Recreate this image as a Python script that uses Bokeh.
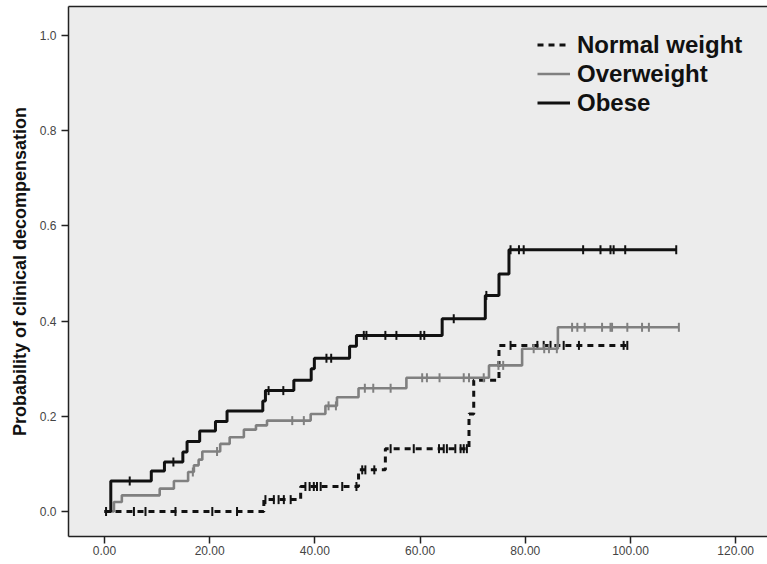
import numpy as np
from bokeh.plotting import figure
from bokeh.models import (Range1d, FixedTicker, NumeralTickFormatter, Legend,
                          LegendItem, LinearAxis)
from bokeh.embed import file_html
from bokeh.resources import INLINE

# ---------------- data ----------------
normal_times = [0.0, 30.3, 37.3, 48.3, 53.4, 69.3, 70.2, 75.0]
normal_prob = [0.0, 0.025, 0.0525, 0.0875, 0.132, 0.205, 0.276, 0.349]
normal_end = 99.4
normal_censored = [0.3, 5.6, 7.8, 13.5, 20.5, 25.2, 30.6, 32.2, 33.1, 34.1, 35.4,
                   38.2, 39.0, 39.8, 40.4, 41.1, 45.2, 47.9, 49.0, 49.6, 51.3,
                   54.4, 58.8, 63.6, 64.5, 65.1, 66.7, 67.7, 68.3, 68.9, 77.2,
                   82.3, 83.5, 84.8, 87.3, 90.2, 98.7, 99.4]

over_times = [0.0, 1.8, 3.3, 10.5, 13.2, 15.9, 17.0, 17.9, 18.6, 22.0, 23.8,
              26.5, 28.8, 30.9, 39.2, 42.0, 44.2, 48.3, 57.4, 73.1, 79.4, 86.2]
over_prob = [0.0, 0.020, 0.034, 0.048, 0.064, 0.083, 0.097, 0.109, 0.126, 0.142,
             0.156, 0.172, 0.181, 0.191, 0.205, 0.222, 0.240, 0.259, 0.281,
             0.307, 0.342, 0.387]
over_end = 109.2
over_censored = [16.8, 21.4, 35.7, 37.9, 42.6, 44.0, 49.5, 51.1, 54.4, 60.4, 61.3,
                 63.7, 68.3, 69.3, 72.1, 74.9, 75.8, 81.6, 83.6, 84.5, 86.0,
                 88.9, 89.9, 91.3, 94.6, 96.2, 96.5, 99.4, 102.2, 103.5, 109.2]

obese_times = [0.0, 1.2, 8.9, 11.4, 14.9, 15.7, 18.1, 21.1, 23.3, 30.1, 30.6,
               36.0, 39.3, 39.9, 46.6, 47.9, 64.2, 72.4, 75.0, 76.9]
obese_prob = [0.0, 0.064, 0.085, 0.104, 0.125, 0.147, 0.169, 0.189, 0.211, 0.232,
              0.254, 0.276, 0.300, 0.322, 0.347, 0.370, 0.405, 0.454, 0.499, 0.550]
obese_end = 108.7
obese_censored = [4.8, 13.1, 31.2, 34.0, 42.2, 43.1, 49.3, 49.8, 53.4, 55.5, 60.1,
                  60.8, 66.4, 72.6, 77.2, 78.8, 79.7, 91.0, 94.3, 96.2, 96.8,
                  99.0, 108.7]

series_labels = ["Normal weight", "Overweight", "Obese"]
x_ticks = [0, 20, 40, 60, 80, 100, 120]
y_ticks = [0.0, 0.2, 0.4, 0.6, 0.8, 1.0]

# ---------------- figure ----------------
p = figure(width=767, height=560, output_backend="svg", toolbar_location=None,
           x_range=Range1d(-6.84, 126.05), y_range=Range1d(-0.0525, 1.061),
           min_border_left=68, min_border_right=0, min_border_top=6,
           min_border_bottom=24)
p.background_fill_color = "#ececec"
p.border_fill_color = "white"
p.outline_line_color = None
p.xgrid.visible = False
p.ygrid.visible = False

AX = "#222222"
for ax in (p.xaxis[0], p.yaxis[0]):
    ax.axis_line_color = AX
    ax.axis_line_width = 1.5
    ax.major_tick_line_color = AX
    ax.major_tick_line_width = 1.5
    ax.major_tick_out = 7
    ax.major_tick_in = 0
    ax.minor_tick_line_color = None
    ax.major_label_text_font = "Liberation Sans"
    ax.major_label_text_font_size = "12px"
    ax.major_label_text_color = "#444444"

p.xaxis[0].ticker = FixedTicker(ticks=x_ticks)
p.xaxis[0].formatter = NumeralTickFormatter(format="0.00")
p.xaxis[0].major_label_standoff = 2

p.yaxis[0].ticker = FixedTicker(ticks=y_ticks)
p.yaxis[0].formatter = NumeralTickFormatter(format="0.0")
p.yaxis[0].major_label_standoff = 5
p.yaxis[0].axis_label = "Probability of clinical decompensation"
p.yaxis[0].axis_label_text_font = "Liberation Sans"
p.yaxis[0].axis_label_text_font_style = "bold"
p.yaxis[0].axis_label_text_font_size = "18px"
p.yaxis[0].axis_label_text_color = "#111111"
p.yaxis[0].axis_label_standoff = 7

top = LinearAxis(ticker=FixedTicker(ticks=[]), major_label_text_font_size="0px",
                 axis_line_color=AX, axis_line_width=1.5,
                 major_tick_line_color=None, minor_tick_line_color=None)
p.add_layout(top, "above")


def step_xy(times, prob, end):
    return list(times) + [end], list(prob) + [prob[-1]]


def censor_y(times, prob, cens):
    t = np.asarray(times)
    pr = np.asarray(prob)
    idx = np.searchsorted(t, np.asarray(cens), side="right") - 1
    return pr[idx]


specs = [
    (normal_times, normal_prob, normal_end, normal_censored, "#111111", 3, "6 5"),
    (over_times, over_prob, over_end, over_censored, "#808080", 2.6, "solid"),
    (obese_times, obese_prob, obese_end, obese_censored, "#111111", 3, "solid"),
]

items = []
for label, (t, pr, end, cens, col, lw, dash) in zip(series_labels, specs):
    xs, ys = step_xy(t, pr, end)
    r = p.step(xs, ys, mode="after", line_color=col, line_width=lw, line_dash=dash)
    p.scatter(cens, censor_y(t, pr, cens), marker="dash", angle=np.pi / 2,
              size=9, line_color=col, line_width=2)
    items.append(LegendItem(label=label, renderers=[r]))

legend = Legend(items=items, location=(469, 419))
legend.label_text_font = "Liberation Sans"
legend.label_text_font_style = "bold"
legend.label_text_font_size = "24px"
legend.label_text_color = "#111111"
legend.glyph_width = 33
legend.glyph_height = 29
legend.label_height = 29
legend.label_standoff = 7
legend.padding = 0
legend.spacing = 0
legend.margin = 0
legend.border_line_color = None
legend.background_fill_alpha = 0
p.add_layout(legend)

open("out.html", "w").write(file_html(p, INLINE))
